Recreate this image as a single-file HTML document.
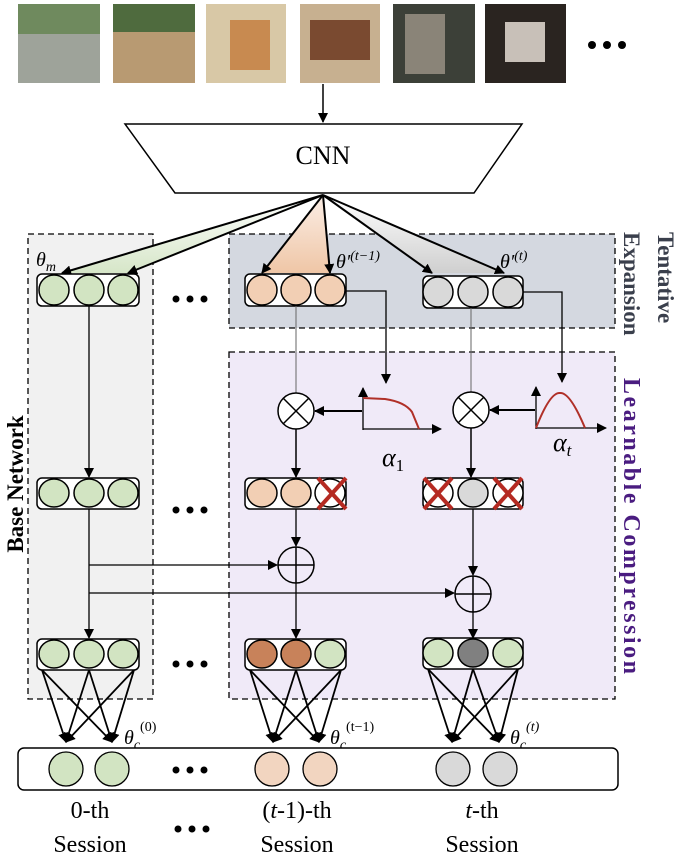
<!DOCTYPE html>
<html><head><meta charset="utf-8"><style>
html,body{margin:0;padding:0;background:#fff}
svg{display:block}
text{font-family:"Liberation Serif",serif}
</style></head><body>
<svg width="684" height="860" viewBox="0 0 684 860" xmlns="http://www.w3.org/2000/svg">
<defs>
<marker id="ah" markerWidth="10" markerHeight="10" refX="9" refY="5" orient="auto" markerUnits="userSpaceOnUse"><path d="M0,0 L10,5 L0,10 z" fill="#000"/></marker>
<linearGradient id="gg" x1="0" y1="0" x2="0" y2="1"><stop offset="0" stop-color="#fff"/><stop offset="1" stop-color="#d6e6c8"/></linearGradient>
<linearGradient id="go" x1="0" y1="0" x2="0" y2="1"><stop offset="0" stop-color="#fbeee6"/><stop offset="1" stop-color="#efc6a6"/></linearGradient>
<linearGradient id="gy" x1="0" y1="0" x2="0" y2="1"><stop offset="0" stop-color="#fff"/><stop offset="1" stop-color="#cfcfcf"/></linearGradient>
</defs>

<rect x="18" y="4" width="82" height="79" fill="#9ea39a"/><rect x="18" y="4" width="82" height="30" fill="#6f8a5e"/>
<rect x="113" y="4" width="82" height="79" fill="#b89a72"/><rect x="113" y="4" width="82" height="28" fill="#4f6b3e"/>
<rect x="206" y="4" width="80" height="79" fill="#d8c8a6"/><rect x="230" y="20" width="40" height="50" fill="#c88a50"/>
<rect x="300" y="4" width="80" height="79" fill="#c7b090"/><rect x="310" y="20" width="60" height="40" fill="#7a4a30"/>
<rect x="393" y="4" width="82" height="79" fill="#3c4038"/><rect x="405" y="14" width="40" height="60" fill="#8a8478"/>
<rect x="485" y="4" width="81" height="79" fill="#2a2420"/><rect x="505" y="22" width="40" height="40" fill="#c8c0b8"/>
<g fill="#000"><circle cx="592" cy="45" r="4"/><circle cx="607" cy="45" r="4"/><circle cx="622" cy="45" r="4"/></g>

<line x1="323" y1="84" x2="323" y2="122" stroke="#000" stroke-width="1.5" marker-end="url(#ah)"/>
<polygon points="125,124 522,124 474,193 175,193" fill="#fff" stroke="#000" stroke-width="1.5"/>
<text x="323" y="164" font-size="26" text-anchor="middle">CNN</text>

<rect x="28" y="234" width="125" height="465" fill="#f1f1f1" stroke="#000" stroke-width="1.3" stroke-dasharray="6,4"/>
<rect x="229" y="234" width="386" height="94" fill="#d4d8e0" stroke="#000" stroke-width="1.3" stroke-dasharray="6,4"/>
<rect x="229" y="352" width="386" height="347" fill="#f0eaf8" stroke="#000" stroke-width="1.3" stroke-dasharray="6,4"/>

<polygon points="323,195 62,273 128,273" fill="url(#gg)"/>
<polygon points="323,195 262,273 330,273" fill="url(#go)"/>
<polygon points="323,195 432,273 504,273" fill="url(#gy)"/>
<g stroke="#000" stroke-width="2" marker-end="url(#ah)">
<line x1="323" y1="195" x2="62" y2="273"/><line x1="323" y1="195" x2="128" y2="273"/>
<line x1="323" y1="195" x2="262" y2="273"/><line x1="323" y1="195" x2="330" y2="273"/>
<line x1="323" y1="195" x2="432" y2="273"/><line x1="323" y1="195" x2="504" y2="273"/>
</g>

<text x="36" y="266" font-size="20" font-style="italic">θ<tspan font-size="14" dy="5">m</tspan></text>
<text x="336" y="268" font-size="20" font-style="italic">θ′<tspan font-size="14" dy="-8">(t−1)</tspan></text>
<text x="500" y="268" font-size="20" font-style="italic">θ′<tspan font-size="14" dy="-8">(t)</tspan></text>

<g stroke="#000" stroke-width="1.5">
<rect x="37" y="274" width="102" height="32" rx="5" fill="#fff"/>
<rect x="245" y="274" width="101" height="32" rx="5" fill="#fff"/>
<rect x="423" y="276" width="100" height="32" rx="5" fill="#fff"/>
<g fill="#d2e4c2"><ellipse cx="54" cy="290" rx="15" ry="15"/><ellipse cx="89" cy="290" rx="15" ry="15"/><ellipse cx="123" cy="290" rx="15" ry="15"/></g>
<g fill="#f2cfb4"><ellipse cx="262" cy="290" rx="15" ry="15"/><ellipse cx="296" cy="290" rx="15" ry="15"/><ellipse cx="330" cy="290" rx="15" ry="15"/></g>
<g fill="#d9d9d9"><ellipse cx="438" cy="292" rx="15" ry="15"/><ellipse cx="473" cy="292" rx="15" ry="15"/><ellipse cx="508" cy="292" rx="15" ry="15"/></g>
</g>
<g fill="#000"><circle cx="176" cy="299" r="3.5"/><circle cx="190" cy="299" r="3.5"/><circle cx="204" cy="299" r="3.5"/></g>

<line x1="296" y1="306" x2="296" y2="393" stroke="#666" stroke-width="1"/>
<line x1="471" y1="308" x2="471" y2="392" stroke="#666" stroke-width="1"/>
<polyline points="346,291 386,291 386,383" fill="none" stroke="#000" stroke-width="1.3" marker-end="url(#ah)"/>
<polyline points="523,292 562,292 562,382" fill="none" stroke="#000" stroke-width="1.3" marker-end="url(#ah)"/>

<g stroke="#000" stroke-width="1.3" fill="none">
<line x1="363" y1="430" x2="363" y2="388" marker-end="url(#ah)"/><line x1="363" y1="429" x2="441" y2="429" marker-end="url(#ah)"/>
<line x1="536" y1="429" x2="536" y2="387" marker-end="url(#ah)"/><line x1="536" y1="428" x2="606" y2="428" marker-end="url(#ah)"/>
</g>
<path d="M363,398 L385,399 Q405,402 412,412 L419,429" fill="none" stroke="#b03028" stroke-width="2"/>
<path d="M536,428 Q550,392 560,393 Q570,392 585,428" fill="none" stroke="#b03028" stroke-width="2"/>
<text x="382" y="466" font-size="26" font-style="italic">α<tspan font-size="17" dy="5" font-style="normal">1</tspan></text>
<text x="553" y="451" font-size="26" font-style="italic">α<tspan font-size="17" dy="5">t</tspan></text>

<g stroke="#000" stroke-width="1.5" fill="#fff">
<circle cx="296" cy="411" r="18"/><circle cx="471" cy="410" r="18"/>
</g>
<g stroke="#000" stroke-width="1.5">
<line x1="283" y1="398" x2="309" y2="424"/><line x1="309" y1="398" x2="283" y2="424"/>
<line x1="458" y1="397" x2="484" y2="423"/><line x1="484" y1="397" x2="458" y2="423"/>
<line x1="362" y1="411" x2="315" y2="411" stroke-width="2" marker-end="url(#ah)"/>
<line x1="535" y1="410" x2="490" y2="410" stroke-width="2" marker-end="url(#ah)"/>
<line x1="296" y1="429" x2="296" y2="477" marker-end="url(#ah)"/>
<line x1="471" y1="428" x2="471" y2="477" marker-end="url(#ah)"/>
</g>

<g stroke="#000" stroke-width="1.5">
<rect x="37" y="478" width="102" height="31" rx="5" fill="#fff"/>
<rect x="245" y="478" width="101" height="31" rx="5" fill="#fff"/>
<rect x="423" y="478" width="100" height="31" rx="5" fill="#fff"/>
<g fill="#d2e4c2"><ellipse cx="54" cy="493" rx="15" ry="14"/><ellipse cx="89" cy="493" rx="15" ry="14"/><ellipse cx="123" cy="493" rx="15" ry="14"/></g>
<ellipse cx="262" cy="493" rx="15" ry="14" fill="#f2cfb4"/><ellipse cx="296" cy="493" rx="15" ry="14" fill="#f2cfb4"/><ellipse cx="330" cy="493" rx="15" ry="14" fill="#fff"/>
<ellipse cx="438" cy="493" rx="15" ry="14" fill="#fff"/><ellipse cx="473" cy="493" rx="15" ry="14" fill="#d9d9d9"/><ellipse cx="508" cy="493" rx="15" ry="14" fill="#fff"/>
</g>
<g stroke="#b52a22" stroke-width="4">
<line x1="318" y1="478" x2="346" y2="509"/><line x1="346" y1="478" x2="318" y2="509"/>
<line x1="424" y1="478" x2="452" y2="509"/><line x1="452" y1="478" x2="424" y2="509"/>
<line x1="494" y1="478" x2="522" y2="509"/><line x1="522" y1="478" x2="494" y2="509"/>
</g>
<g fill="#000"><circle cx="176" cy="510" r="3.5"/><circle cx="190" cy="510" r="3.5"/><circle cx="204" cy="510" r="3.5"/></g>

<g stroke="#000" stroke-width="1.3">
<line x1="89" y1="306" x2="89" y2="477" marker-end="url(#ah)"/>
<line x1="89" y1="509" x2="89" y2="638" marker-end="url(#ah)"/>
<line x1="89" y1="565" x2="277" y2="565" marker-end="url(#ah)"/>
<line x1="89" y1="593" x2="454" y2="593" marker-end="url(#ah)"/>
<line x1="296" y1="509" x2="296" y2="546" marker-end="url(#ah)"/>
<line x1="296" y1="583" x2="296" y2="638" marker-end="url(#ah)"/>
<line x1="473" y1="509" x2="473" y2="575" marker-end="url(#ah)"/>
<line x1="473" y1="612" x2="473" y2="638" marker-end="url(#ah)"/>
</g>
<g stroke="#000" stroke-width="1.5" fill="none">
<circle cx="296" cy="565" r="18"/><line x1="278" y1="565" x2="314" y2="565"/><line x1="296" y1="547" x2="296" y2="583"/>
<circle cx="473" cy="594" r="18"/><line x1="455" y1="594" x2="491" y2="594"/><line x1="473" y1="576" x2="473" y2="612"/>
</g>

<g stroke="#000" stroke-width="1.5">
<rect x="37" y="639" width="102" height="31" rx="5" fill="#fff"/>
<rect x="245" y="639" width="101" height="31" rx="5" fill="#fff"/>
<rect x="423" y="638" width="100" height="31" rx="5" fill="#fff"/>
<g fill="#d2e4c2"><ellipse cx="54" cy="654" rx="15" ry="14"/><ellipse cx="89" cy="654" rx="15" ry="14"/><ellipse cx="123" cy="654" rx="15" ry="14"/></g>
<ellipse cx="262" cy="654" rx="15" ry="14" fill="#c8825a"/><ellipse cx="296" cy="654" rx="15" ry="14" fill="#c8825a"/><ellipse cx="330" cy="654" rx="15" ry="14" fill="#d2e4c2"/>
<ellipse cx="438" cy="653" rx="15" ry="14" fill="#d2e4c2"/><ellipse cx="473" cy="653" rx="15" ry="14" fill="#808080"/><ellipse cx="508" cy="653" rx="15" ry="14" fill="#d2e4c2"/>
</g>
<g fill="#000"><circle cx="176" cy="664" r="3.5"/><circle cx="190" cy="664" r="3.5"/><circle cx="204" cy="664" r="3.5"/></g>

<g stroke="#000" stroke-width="1.8" marker-end="url(#ah)">
<line x1="42" y1="670" x2="66" y2="742"/><line x1="42" y1="670" x2="112" y2="742"/>
<line x1="89" y1="670" x2="66" y2="742"/><line x1="89" y1="670" x2="112" y2="742"/>
<line x1="134" y1="670" x2="66" y2="742"/><line x1="134" y1="670" x2="112" y2="742"/>
<line x1="250" y1="670" x2="273" y2="742"/><line x1="250" y1="670" x2="319" y2="742"/>
<line x1="296" y1="670" x2="273" y2="742"/><line x1="296" y1="670" x2="319" y2="742"/>
<line x1="341" y1="670" x2="273" y2="742"/><line x1="341" y1="670" x2="319" y2="742"/>
<line x1="428" y1="669" x2="452" y2="742"/><line x1="428" y1="669" x2="499" y2="742"/>
<line x1="473" y1="669" x2="452" y2="742"/><line x1="473" y1="669" x2="499" y2="742"/>
<line x1="518" y1="669" x2="452" y2="742"/><line x1="518" y1="669" x2="499" y2="742"/>
</g>
<text x="124" y="744" font-size="20" font-style="italic">θ<tspan font-size="14" dy="5">c</tspan><tspan font-size="14" dy="-18" font-style="normal">(0)</tspan></text>
<text x="330" y="744" font-size="20" font-style="italic">θ<tspan font-size="14" dy="5">c</tspan><tspan font-size="14" dy="-18" font-style="normal">(t−1)</tspan></text>
<text x="510" y="744" font-size="20" font-style="italic">θ<tspan font-size="14" dy="5">c</tspan><tspan font-size="14" dy="-18">(t)</tspan></text>

<rect x="18" y="748" width="600" height="42" rx="6" fill="#fff" stroke="#000" stroke-width="1.5"/>
<g stroke="#000" stroke-width="1.3">
<ellipse cx="66" cy="769" rx="17" ry="17" fill="#d2e4c2"/><ellipse cx="112" cy="769" rx="17" ry="17" fill="#d2e4c2"/>
<ellipse cx="272" cy="769" rx="17" ry="17" fill="#f2d5c0"/><ellipse cx="320" cy="769" rx="17" ry="17" fill="#f2d5c0"/>
<ellipse cx="453" cy="769" rx="17" ry="17" fill="#d9d9d9"/><ellipse cx="500" cy="769" rx="17" ry="17" fill="#d9d9d9"/>
</g>
<g fill="#000"><circle cx="176" cy="770" r="3.5"/><circle cx="190" cy="770" r="3.5"/><circle cx="204" cy="770" r="3.5"/>
<circle cx="178" cy="829" r="3.5"/><circle cx="192" cy="829" r="3.5"/><circle cx="206" cy="829" r="3.5"/></g>

<g font-size="24" text-anchor="middle">
<text x="90" y="818">0-th</text><text x="90" y="852">Session</text>
<text x="297" y="818">(<tspan font-style="italic">t</tspan>-1)-th</text><text x="297" y="852">Session</text>
<text x="482" y="818"><tspan font-style="italic">t</tspan>-th</text><text x="482" y="852">Session</text>
</g>

<text transform="translate(23,484) rotate(-90)" font-size="23" font-weight="bold" text-anchor="middle">Base Network</text>
<text transform="translate(658,232) rotate(90)" font-size="23" font-weight="bold" fill="#3a3f4c">Tentative</text>
<text transform="translate(624,232) rotate(90)" font-size="23" font-weight="bold" fill="#3a3f4c">Expansion</text>
<text transform="translate(624,378) rotate(90)" font-size="24" font-weight="bold" fill="#4a1c80" textLength="296" lengthAdjust="spacing">Learnable  Compression</text>
</svg>
</body></html>
